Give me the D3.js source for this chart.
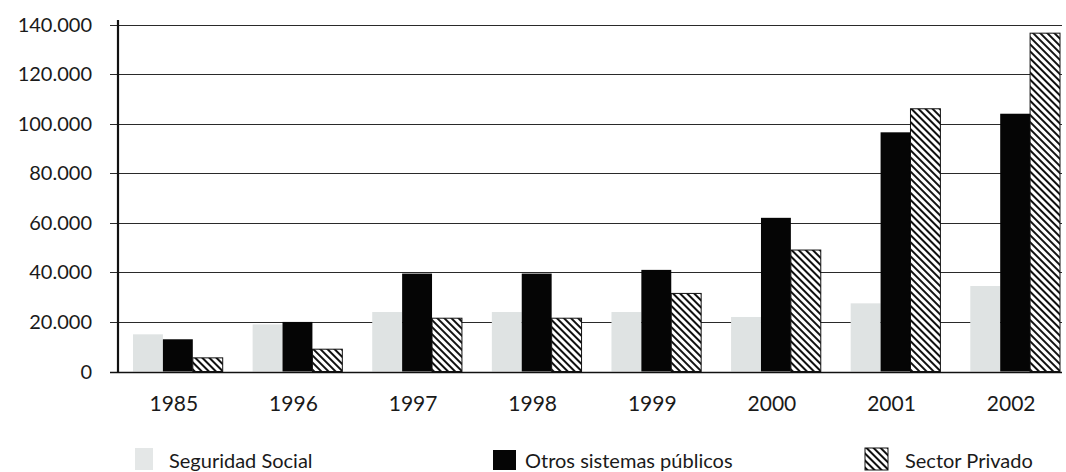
<!DOCTYPE html>
<html>
<head>
<meta charset="utf-8">
<script src="https://cdn.jsdelivr.net/npm/d3@7"></script>
<style>
  html, body { margin: 0; padding: 0; background: #fff; }
  svg { display: block; }
  text { font-family: Lato, "Noto Sans", sans-serif; fill: #1a1a1a; }
</style>
</head>
<body>
<svg id="chart" width="1066" height="472"></svg>
<script>
// Years on the category axis
const years = ["1985", "1996", "1997", "1998", "1999", "2000", "2001", "2002"];

// Series values
const seguridadSocial = [15000, 19000, 24000, 24000, 24000, 22000, 27500, 34500];
const otrosPublicos   = [13000, 20000, 39500, 39500, 41000, 62000, 96500, 104000];
const sectorPrivado   = [5500, 9000, 21500, 21500, 31500, 49000, 106000, 136500];

// Series names, in legend order
const seriesNames = ["Seguridad Social", "Otros sistemas públicos", "Sector Privado"];

// Value-axis ticks
const yTicks = [0, 20000, 40000, 60000, 80000, 100000, 120000, 140000];

const svg = d3.select("#chart");

const defs = svg.append("defs");
const hatch = defs.append("pattern")
  .attr("id", "hatch")
  .attr("patternUnits", "userSpaceOnUse")
  .attr("width", 5)
  .attr("height", 5)
  .attr("patternTransform", "rotate(-45)");
hatch.append("rect").attr("width", 5).attr("height", 5).attr("fill", "#fff");
hatch.append("rect").attr("x", 0).attr("y", 0).attr("width", 2).attr("height", 5).attr("fill", "#111");

const fills = ["#dfe3e3", "#050505", "url(#hatch)"];
const strokes = ["none", "none", "#111"];

const plot = { left: 118, right: 1061, top: 24.5, bottom: 371.5 };

const x0 = d3.scaleBand()
  .domain(years)
  .range([133, 1060])
  .paddingInner(0.25)
  .paddingOuter(0);

const x1 = d3.scaleBand()
  .domain(d3.range(seriesNames.length))
  .range([0, x0.bandwidth()])
  .padding(0);

const y = d3.scaleLinear()
  .domain([0, 140000])
  .range([plot.bottom, plot.top]);

// Horizontal grid lines (with short ticks left of the axis)
svg.append("g")
  .selectAll("line")
  .data(yTicks)
  .join("line")
  .attr("x1", 110)
  .attr("x2", 1062)
  .attr("y1", d => Math.round(y(d)) + 0.5)
  .attr("y2", d => Math.round(y(d)) + 0.5)
  .attr("stroke", "#2a2a2a")
  .attr("stroke-width", 1.2);

// Tick labels on the value axis, Spanish thousands separator
const fmt = d3.formatLocale({ decimal: ",", thousands: ".", grouping: [3], currency: ["", "€"] }).format(",");
svg.append("g")
  .selectAll("text")
  .data(yTicks)
  .join("text")
  .attr("x", 92)
  .attr("y", d => y(d))
  .attr("dy", "0.35em")
  .attr("text-anchor", "end")
  .attr("font-size", 20)
  .text(d => d === 0 ? "0" : fmt(d));

// Bars
const rows = years.map((yr, i) => ({
  year: yr,
  values: [seguridadSocial[i], otrosPublicos[i], sectorPrivado[i]]
}));

const groups = svg.append("g")
  .selectAll("g")
  .data(rows)
  .join("g")
  .attr("transform", d => `translate(${x0(d.year)},0)`);

groups.selectAll("rect")
  .data(d => d.values.map((v, k) => ({ v, k })))
  .join("rect")
  .attr("x", d => x1(d.k))
  .attr("width", x1.bandwidth())
  .attr("y", d => y(d.v))
  .attr("height", d => y(0) - y(d.v))
  .attr("fill", d => fills[d.k])
  .attr("stroke", d => strokes[d.k])
  .attr("stroke-width", 1);

// Baseline and vertical axis
svg.append("line")
  .attr("x1", 110).attr("x2", 1062)
  .attr("y1", Math.round(y(0)) + 0.5).attr("y2", Math.round(y(0)) + 0.5)
  .attr("stroke", "#111").attr("stroke-width", 1.5);

svg.append("line")
  .attr("x1", plot.left).attr("x2", plot.left)
  .attr("y1", 20).attr("y2", y(0) + 1)
  .attr("stroke", "#111").attr("stroke-width", 2.2);

// Year labels
svg.append("g")
  .selectAll("text")
  .data(years)
  .join("text")
  .attr("x", d => x0(d) + x0.bandwidth() / 2 - 4)
  .attr("y", 411)
  .attr("text-anchor", "middle")
  .attr("font-size", 21)
  .text(d => d);

// Legend
const legendX = [135, 493, 865];
const legendTextX = [169, 525, 905];
const legend = svg.append("g")
  .selectAll("g")
  .data(seriesNames)
  .join("g");

legend.append("rect")
  .attr("x", (d, i) => legendX[i])
  .attr("y", (d, i) => i === 1 ? 450 : 448)
  .attr("width", (d, i) => i === 0 ? 18 : 23)
  .attr("height", (d, i) => i === 1 ? 20 : 22)
  .attr("fill", (d, i) => i === 0 ? "#e4e7e7" : fills[i])
  .attr("stroke", (d, i) => strokes[i]);

legend.append("text")
  .attr("x", (d, i) => legendTextX[i])
  .attr("y", 468)
  .attr("font-size", 20)
  .text(d => d);
</script>
</body>
</html>
